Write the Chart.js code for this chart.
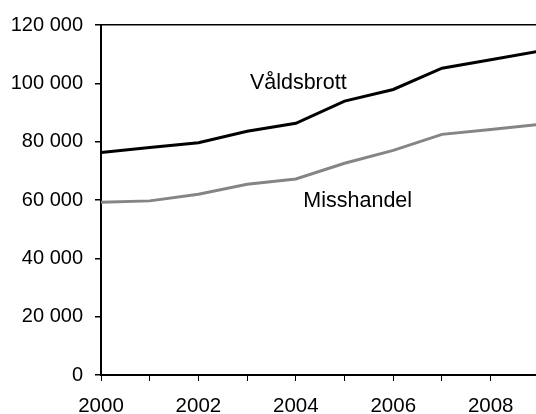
<!DOCTYPE html>
<html>
<head>
<meta charset="utf-8">
<script src="https://cdn.jsdelivr.net/npm/chart.js@4/dist/chart.umd.min.js"></script>
<style>
  html, body { margin: 0; padding: 0; background: #fff; overflow: hidden; }
  #wrap { width: 536px; height: 414px; }
</style>
</head>
<body>
<div id="wrap"><canvas id="chart"></canvas></div>
<script>
// data
var years = [2000, 2001, 2002, 2003, 2004, 2005, 2006, 2007, 2008, 2009];
var valdsbrott = [76300, 78000, 79600, 83600, 86300, 93900, 97900, 105200, 108100, 111000];
var misshandel = [59200, 59700, 62000, 65400, 67200, 72600, 77000, 82500, 84200, 85900];
var yTicks = [0, 20000, 40000, 60000, 80000, 100000, 120000];
var xLabels = [2000, 2002, 2004, 2006, 2008];

// series name labels placed inside the plot
var seriesLabels = [
  { text: 'Våldsbrott', x: 2004.05, y: 100000 },
  { text: 'Misshandel', x: 2005.27, y: 59500 }
];

function pts(vals) {
  return vals.map(function (v, i) { return { x: years[i], y: v }; });
}

function fmt(v) {
  return String(v).replace(/\B(?=(\d{3})+(?!\d))/g, ' ');
}

var FONT = "'Liberation Sans', Arial, sans-serif";

var labelPlugin = {
  id: 'seriesLabels',
  afterDatasetsDraw: function (chart) {
    var ctx = chart.ctx;
    var xs = chart.scales.x, ys = chart.scales.y;
    ctx.save();
    ctx.fillStyle = '#000';
    ctx.font = '21.5px ' + FONT;
    ctx.textAlign = 'center';
    ctx.textBaseline = 'middle';
    seriesLabels.forEach(function (l) {
      ctx.fillText(l.text, xs.getPixelForValue(l.x), ys.getPixelForValue(l.y));
    });
    ctx.restore();
  }
};

var chartConfig = {
  type: 'line',
  data: {
    datasets: [{
      label: 'Våldsbrott',
      data: pts(valdsbrott),
      borderColor: '#000000',
      borderWidth: 3,
      pointRadius: 0,
      tension: 0
    }, {
      label: 'Misshandel',
      data: pts(misshandel),
      borderColor: '#858585',
      borderWidth: 3,
      pointRadius: 0,
      tension: 0
    }]
  },
  options: {
    responsive: true,
    maintainAspectRatio: false,
    animation: false,
    layout: { padding: { top: 25, right: 0, left: 0, bottom: 0 } },
    plugins: { legend: { display: false }, tooltip: { enabled: false } },
    scales: {
      x: {
        type: 'linear',
        min: 2000,
        max: 2008.93,
        afterFit: function (s) { s.height = 39; },
        border: { color: '#000', width: 2 },
        grid: { drawOnChartArea: false, tickLength: 6, color: '#000', lineWidth: 1 },
        ticks: {
          stepSize: 1,
          includeBounds: false,
          autoSkip: false,
          maxRotation: 0,
          padding: 13,
          color: '#000',
          font: { family: FONT, size: 20.5 },
          callback: function (v) { return xLabels.indexOf(v) >= 0 ? String(v) : ''; }
        }
      },
      y: {
        min: 0,
        max: 120000,
        afterFit: function (s) { s.width = 101; },
        afterBuildTicks: function (s) { s.ticks = yTicks.map(function (v) { return { value: v }; }); },
        border: { color: '#000', width: 2 },
        grid: {
          drawOnChartArea: true,
          tickLength: 6,
          tickColor: '#000',
          color: function (c) { return c.tick && c.tick.value === 120000 ? '#000' : 'rgba(0,0,0,0)'; },
          lineWidth: 1.5
        },
        ticks: {
          padding: 12,
          color: '#000',
          font: { family: FONT, size: 20 },
          callback: function (v) { return fmt(v); }
        }
      }
    }
  },
  plugins: [labelPlugin]
};

new Chart(document.getElementById('chart'), chartConfig);
</script>
</body>
</html>
